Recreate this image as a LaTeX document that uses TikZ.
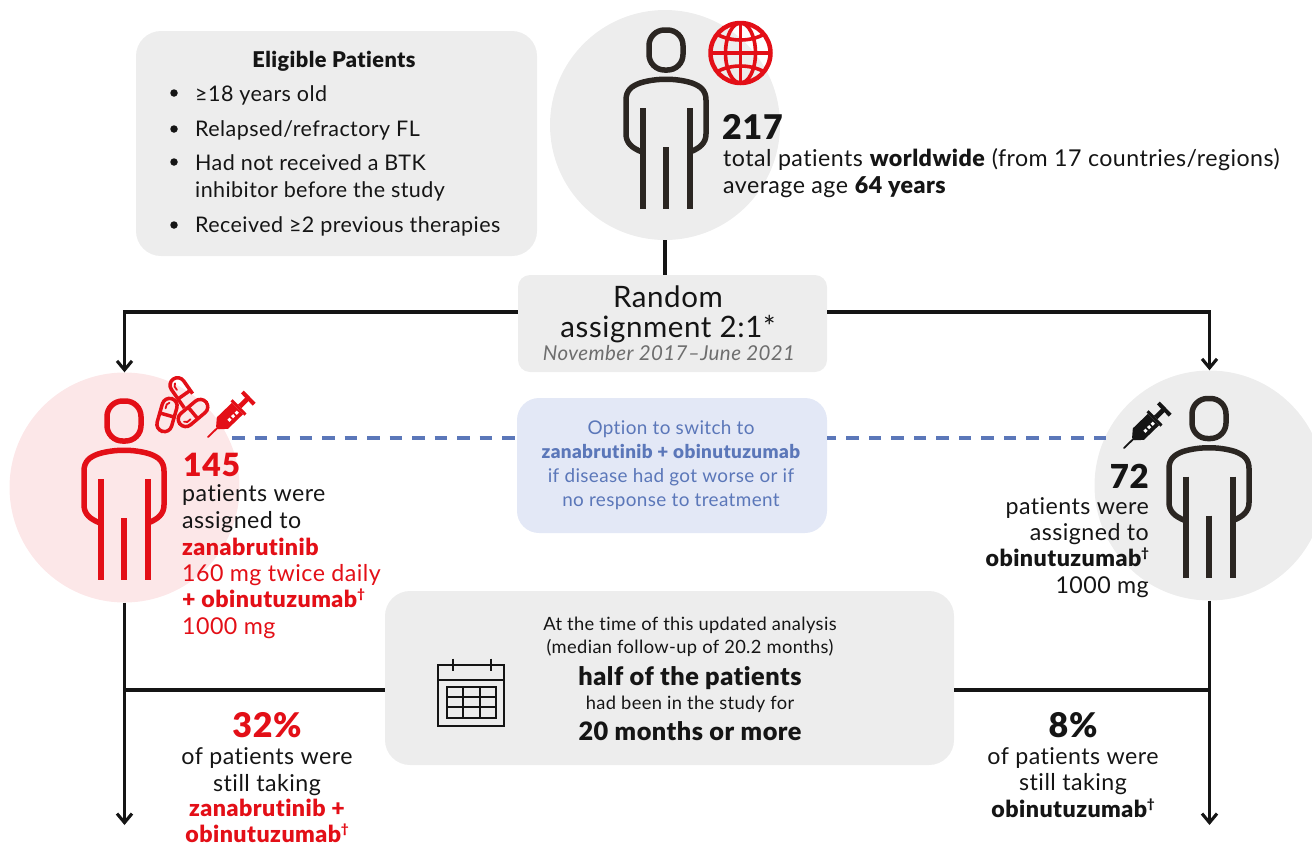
\documentclass[tikz,border=0pt]{standalone}
\usepackage{fontspec}
\setmainfont{Lato}[LetterSpace=2.0,Ligatures=NoCommon,BoldFont={Lato Black},BoldFeatures={LetterSpace=2.0},ItalicFeatures={LetterSpace=2.0}]
\usetikzlibrary{arrows.meta}
\definecolor{rd}{HTML}{E30F17}
\definecolor{dk}{HTML}{2B2622}
\definecolor{ink}{HTML}{151515}
\definecolor{gbox}{HTML}{EDEDED}
\definecolor{pinkc}{HTML}{FCE7E8}
\definecolor{bluebox}{HTML}{E3E8F6}
\definecolor{blu}{HTML}{5B77B9}
\definecolor{grytxt}{HTML}{6E6E6E}
\newcommand{\fs}[2]{\fontsize{#1}{#2}\selectfont}
\newcommand{\dg}{\raisebox{0.38em}{\fontsize{0.55em}{0.55em}\selectfont †}}
\tikzset{
  x=1pt,y=-1pt,
  roundbox/.style={fill=gbox,draw=none,rounded corners=#1,inner sep=0pt},
  disc/.style={circle,draw=none,inner sep=0pt,minimum size=230pt},
  conn/.style={draw=ink,line width=3.1pt},
  arrowconn/.style={conn,-{Straight Barb[length=9pt,width=15pt,line width=3.1pt]}},
  dashconn/.style={draw=blu,line width=3.6pt,dash pattern=on 12.5pt off 10pt},
  txt/.style={inner sep=0pt,text=ink,font=\fs{23.2}{26.3}},
  lefttxt/.style={txt,anchor=base west,align=left},
  righttxt/.style={txt,anchor=base east,align=right},
  midtxt/.style={txt,anchor=base,align=center},
  person/.pic={
    \draw[line width=5.5pt,rounded corners=15.5pt] (-17,-20) rectangle (17,20);
    \draw[line width=5.5pt] (-24,102) .. controls (-34,98) and (-40,93) .. (-40,84) -- (-40,50)
       .. controls (-40,40) and (-34,36) .. (-26,33) .. controls (-10,28) and (10,28) .. (26,33)
       .. controls (34,36) and (40,40) .. (40,50) -- (40,84) .. controls (40,93) and (34,98) .. (24,102);
    \draw[line width=6pt] (-23.5,58) -- (-23.5,159) (0,97) -- (0,159) (23.5,58) -- (23.5,159);
  },
  syringe/.pic={
    \draw[line width=1.8pt,line cap=round] (0,0) -- (17,0);
    \fill (13,-1.8) -- (20,-8) -- (41,-8) -- (41,8) -- (20,8) -- (13,1.8) -- cycle;
    \fill[white] (26,1) rectangle (29,4) (31,1) rectangle (34,4) (36,1) rectangle (39,4);
    \fill (41,-10) rectangle (44,10);
    \fill (44,-2.4) rectangle (55,2.4);
    \fill (54,-8.5) rectangle (58,8.5);
  },
  capsule/.pic={
    \draw[line width=3.5pt,rounded corners=7.5pt] (-7.5,-17) rectangle (7.5,17);
    \draw[line width=3.5pt] (-7.5,0) -- (7.5,0);
    \draw[line width=1.8pt,line cap=round] (-3.2,-6) -- (-3.2,-10) -- (-1,-12.5);
  },
  capsuletop/.pic={
    \draw[line width=3.5pt,rounded corners=7.5pt] (-7.5,13) -- (-7.5,-17) -- (7.5,-17) -- (7.5,6);
    \draw[line width=3.5pt] (-7.5,2) -- (7.5,2);
    \draw[line width=1.8pt,line cap=round] (-3.2,-6) -- (-3.2,-10) -- (-1,-12.5);
  },
  globe/.pic={
    \draw[line width=4.5pt] (0,0) circle[radius=30];
    \draw[line width=3.6pt] (0,0) ellipse[x radius=15,y radius=30];
    \draw[line width=3.6pt] (0,-30) -- (0,30) (-30,0) -- (30,0);
    \draw[line width=3.6pt] (-24,-19) .. controls (-10,-11) and (10,-11) .. (24,-19);
    \draw[line width=3.6pt] (-24,19) .. controls (-10,11) and (10,11) .. (24,19);
  },
  calendar/.pic={
    \draw[line width=2pt] (0,0) rectangle (66,61) (0,14.5) -- (66,14.5);
    \draw[line width=2pt] (14.5,-6.5) -- (14.5,5.5) (52.5,-6.5) -- (52.5,5.5);
    \draw[line width=2pt] (8.5,22) rectangle (58,52.5) (8.5,32) -- (58,32) (8.5,42) -- (58,42)
      (25,22) -- (25,52.5) (41.5,22) -- (41.5,52.5);
  },
}
\begin{document}
\begin{tikzpicture}
\useasboundingbox (0,0) rectangle (1312,844);
% discs
\node[disc,fill=gbox] (discTop) at (665,125) {};
\node[disc,fill=pinkc] (discLeft) at (124.5,487.5) {};
\node[disc,fill=gbox] (discRight) at (1209.5,485.5) {};
% boxes
\node[roundbox=25pt,minimum width=401pt,minimum height=225pt] (eligible) at (336.5,143.5) {};
\node[roundbox=12pt,minimum width=309pt,minimum height=97pt] (random) at (672.5,323.5) {};
\node[roundbox=22pt,fill=bluebox,minimum width=310pt,minimum height=135pt] (option) at (672,465.5) {};
\node[roundbox=25pt,minimum width=569pt,minimum height=174pt] (followup) at (669.5,678) {};
% connectors
\coordinate (leftEnd) at (124.5,825);
\coordinate (rightEnd) at (1209.5,825);
\coordinate (leftDash) at (232,438);
\coordinate (rightDash) at (1106,438);
\coordinate (branchL) at ([yshift=11.5pt]random.west);
\coordinate (branchR) at ([yshift=11.5pt]random.east);
\draw[conn] (discTop.south) -- (discTop.south |- random.north);
\draw[arrowconn] (branchL) -| (discLeft.north);
\draw[arrowconn] (branchR) -| (discRight.north);
\draw[arrowconn] (discLeft.south) -- (leftEnd);
\draw[arrowconn] (discRight.south) -- (rightEnd);
\draw[conn] (leftEnd |- 0,690) -- (followup.west |- 0,690);
\draw[conn] (followup.east |- 0,690) -- (rightEnd |- 0,690);
\draw[dashconn] (leftDash) -- (option.west |- leftDash);
\draw[dashconn] (rightDash) -- (option.east |- rightDash);
% icons
\pic[color=dk,draw=dk] at (666,50) {person};
\pic[color=rd,draw=rd] at (124,421) {person};
\pic[color=dk,draw=dk] at (1209,418.5) {person};
\pic[color=rd,draw=rd,fill=rd] at (740.5,53) {globe};
\pic[color=rd,draw=rd,rotate=44] at (208,437) {syringe};
\pic[color=ink,draw=ink,rotate=44] at (1124,448) {syringe};
\pic[color=rd,draw=rd,rotate=35] at (183,393) {capsuletop};
\pic[color=rd,draw=rd,rotate=-16] at (167,415) {capsule};
\pic[color=rd,draw=rd,rotate=130] at (193,413) {capsule};
\pic[color=ink,draw=ink] at (438,665) {calendar};
% eligible text
\node[midtxt,font=\bfseries\fs{21.7}{26}] (eligTitle) at (334,67) {Eligible Patients};
\foreach \n/\yy in {a/93,b/129,c/162,d/225}{
  \node[circle,fill=ink,inner sep=0pt,minimum size=7.5pt] (bul\n) at (174,\yy) {};
}
\node[lefttxt,font=\fs{21.5}{27}] (el1) at (195,101) {≥18 years old};
\node[lefttxt,font=\fs{21.5}{27}] (el2) at (195,136) {Relapsed/refractory FL};
\node[lefttxt,font=\fs{21.5}{27}] (el3) at (195,197) {Had not received a BTK\\inhibitor before the study};
\node[lefttxt,font=\fs{21.5}{27}] (el4) at (195,232) {Received ≥2 previous therapies};
% top text
\node[lefttxt,font=\bfseries\fs{34}{40}] (n217) at (722,139) {217};
\node[lefttxt] (t217) at (723,193) {total patients \textbf{worldwide} (from 17 countries/regions)\\average age \textbf{64 years}};
% random
\node[midtxt,font=\fs{29.5}{30}] (rand1) at (668,337) {Random\hspace{7pt}\\assignment 2:1*};
\node[midtxt,font=\itshape\fs{20.5}{20},text=grytxt] (rand2) at (669,360) {November 2017–June 2021};
% option
\node[midtxt,text=blu,font=\fs{18.9}{23.7}] (opt) at (671,506) {Option to switch to\\\textbf{zanabrutinib + obinutuzumab}\\if disease had got worse or if\\no response to treatment};
% left
\node[lefttxt,text=rd,font=\bfseries\fs{32}{36}] (n145) at (183,476) {145};
\node[lefttxt] (tl1) at (182,528) {patients were\\assigned to};
\node[lefttxt,text=rd] (tl2) at (182,634) {\textbf{zanabrutinib}\\160 mg twice daily\\\textbf{+ obinutuzumab\dg}\\1000 mg};
% right
\node[righttxt,font=\bfseries\fs{33}{36}] (n72) at (1149,488) {72};
\node[righttxt] (tr1) at (1149,593) {patients were\\assigned to\\\textbf{obinutuzumab\dg}\\1000 mg};
% follow-up
\node[midtxt,font=\fs{18.3}{23}] (f1) at (690,653) {At the time of this updated analysis\\(median follow-up of 20.2 months)};
\node[midtxt,font=\bfseries\fs{25.3}{26}] (f2) at (690,685) {half of the patients};
\node[midtxt,font=\fs{18.3}{20}] (f3) at (690,709) {had been in the study for};
\node[midtxt,font=\bfseries\fs{25.3}{26}] (f4) at (690,740) {20 months or more};
% bottom
\node[midtxt,text=rd,font=\bfseries\fs{34}{34}] (p32) at (267,737) {32\%};
\node[midtxt] (b1) at (267,791) {of patients were\\still taking};
\node[midtxt,text=rd,font=\bfseries\fs{23.2}{26}] (b2) at (267,842) {zanabrutinib +\\obinutuzumab\dg};
\node[midtxt,font=\bfseries\fs{34}{34}] (p8) at (1073,737) {8\%};
\node[midtxt] (b3) at (1073,817) {of patients were\\still taking\\\textbf{obinutuzumab\dg}};
\end{tikzpicture}
\end{document}
